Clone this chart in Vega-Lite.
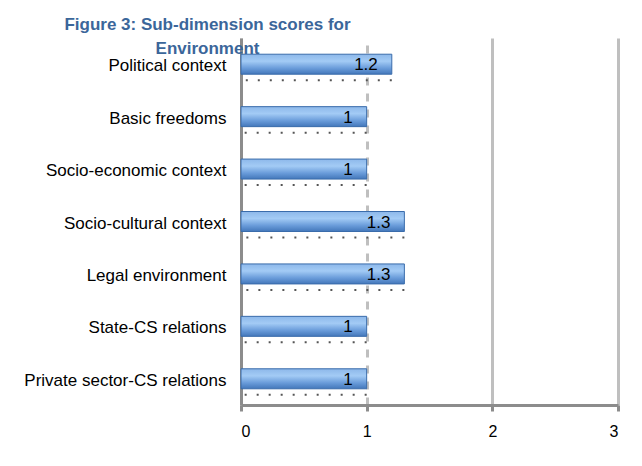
{
  "$schema": "https://vega.github.io/schema/vega-lite/v6.json",
  "width": 377,
  "height": 367,
  "autosize": {"type": "none"},
  "padding": {"left": 241, "top": 38, "right": 24, "bottom": 61},
  "background": "white",
  "title": {
    "text": ["Figure 3: Sub-dimension  scores for", "Environment"],
    "anchor": "middle",
    "frame": "group",
    "align": "center",
    "dx": -222,
    "offset": -20,
    "font": "Liberation Sans",
    "fontSize": 17,
    "fontWeight": "bold",
    "color": "#3B669A",
    "lineHeight": 24
  },
  "data": {
    "values": [
      {"category": "Political context", "score": 1.2, "label": "1.2"},
      {"category": "Basic freedoms", "score": 1, "label": "1"},
      {"category": "Socio-economic context", "score": 1, "label": "1"},
      {"category": "Socio-cultural context", "score": 1.3, "label": "1.3"},
      {"category": "Legal environment", "score": 1.3, "label": "1.3"},
      {"category": "State-CS relations", "score": 1, "label": "1"},
      {"category": "Private sector-CS relations", "score": 1, "label": "1"}
    ]
  },
  "encoding": {
    "y": {
      "field": "category",
      "type": "nominal",
      "sort": null,
      "scale": {"paddingInner": 0, "paddingOuter": 0},
      "axis": {
        "title": null,
        "domainColor": "#8C8C8C",
        "domainWidth": 3,
        "ticks": false,
        "labelPadding": 15,
        "labelFont": "Liberation Sans",
        "labelFontSize": 17,
        "labelColor": "#000000",
        "labelLimit": 300,
        "labelOffset": 2,
        "grid": false
      }
    }
  },
  "layer": [
    {
      "mark": {"type": "rule", "color": "#555555", "strokeWidth": 2, "strokeDash": [2, 10], "yOffset": 16},
      "encoding": {
        "x": {"field": "score", "type": "quantitative"},
        "x2": {"datum": 0}
      }
    },
    {
      "mark": {
        "type": "bar",
        "height": 20,
        "stroke": "#3A6CAB",
        "strokeWidth": 1,
        "fill": {
          "gradient": "linear",
          "x1": 0, "y1": 0, "x2": 0, "y2": 1,
          "stops": [
            {"offset": 0, "color": "#8DB8EA"},
            {"offset": 0.35, "color": "#A3CBF5"},
            {"offset": 0.7, "color": "#6A9CDA"},
            {"offset": 1, "color": "#4377BA"}
          ]
        }
      },
      "encoding": {
        "x": {
          "field": "score",
          "type": "quantitative",
          "scale": {"domain": [0, 3], "nice": false},
          "axis": {
            "title": null,
            "values": [0, 1, 2, 3],
            "format": "d",
            "domainColor": "#8C8C8C",
            "domainWidth": 3,
            "tickColor": "#8C8C8C",
            "tickWidth": 3,
            "tickSize": 6,
            "labelPadding": 12,
            "labelFont": "Liberation Sans",
            "labelFontSize": 16,
            "labelColor": "#000000",
            "grid": true,
            "gridColor": "#BFBFBF",
            "gridWidth": 3,
            "gridDash": {"condition": {"test": "datum.value === 1", "value": [8, 8]}, "value": []}
          }
        }
      }
    },
    {
      "mark": {"type": "text", "align": "right", "baseline": "middle", "dx": -14, "dy": 1, "font": "Liberation Sans", "fontSize": 17, "color": "#000000"},
      "encoding": {
        "x": {"field": "score", "type": "quantitative"},
        "text": {"field": "label"}
      }
    }
  ],
  "config": {
    "view": {"stroke": null}
  }
}
